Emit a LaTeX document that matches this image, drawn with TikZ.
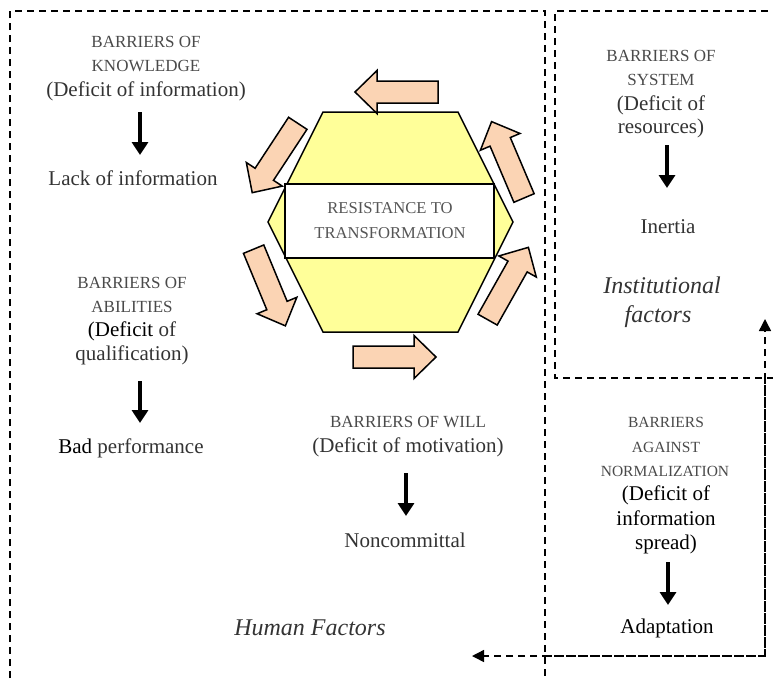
\documentclass[tikz,border=0pt]{standalone}
\usepackage{fontspec}
\setmainfont{Liberation Serif}
\usetikzlibrary{arrows.meta}
\definecolor{hexyellow}{HTML}{FFFF99}
\definecolor{peach}{HTML}{FBD4B4}
\definecolor{capgrey}{HTML}{4A4A4A}
\definecolor{txtgrey}{HTML}{333333}
\definecolor{coregrey}{HTML}{555555}
\newcommand{\peachArrow}[2]{%
  \draw[peacharrow, shift={#1}, rotate=#2]
    (-41.5,-11) -- (19.5,-11) -- (19.5,-21.5) -- (41.5,0) --
    (19.5,21.5) -- (19.5,11) -- (-41.5,11) -- cycle;}
\begin{document}
\begin{tikzpicture}[x=1pt,y=-1pt,
  caps/.style={anchor=base, text=capgrey, font=\fontsize{17}{20}\selectfont, inner sep=0pt},
  smallcaps/.style={anchor=base, text=capgrey, font=\fontsize{15.5}{19}\selectfont, inner sep=0pt},
  body/.style={anchor=base, text=txtgrey, font=\fontsize{21}{24}\selectfont, inner sep=0pt},
  dk/.style={anchor=base, text=black, font=\fontsize{21}{24}\selectfont, inner sep=0pt},
  ital/.style={anchor=base, text=txtgrey, font=\fontsize{24}{28}\selectfont\itshape, inner sep=0pt},
  coretxt/.style={anchor=base, text=coregrey, font=\fontsize{16.6}{20}\selectfont, inner sep=0pt},
  bigarrow/.style={line width=4pt, -{Triangle[length=13pt,width=16pt]}},
  frame/.style={line width=1.5pt, dash pattern=on 7pt off 5pt},
  flow/.style={frame, -{Triangle[length=12pt,width=12pt]}},
  peacharrow/.style={fill=peach, draw=black, line width=1.5pt, line join=miter},
]
\useasboundingbox (0,0) rectangle (773,678);

% frames
\draw[frame] (10,690) -- (10,11) -- (545,11) -- (545,690);
\draw[frame] (780,11) -- (555,11) -- (555,378) -- (780,378);
\draw[frame] (545,656) -- (765,656) -- (765,378);
\coordinate (cornerN) at (765,656);
\coordinate (toInst) at (765,319);
\coordinate (toHuman) at (472,656);
\draw[flow] (cornerN) -- (toInst);
\draw[flow] (cornerN) -- (toHuman);

% hexagon
\draw[fill=hexyellow, line width=1.5pt, line join=miter]
  (323,112) -- (458,112) -- (513,222) -- (458,332) -- (323,332) -- (268,222) -- cycle;
\node[draw, fill=white, line width=1.2pt, minimum width=209pt, minimum height=74pt, inner sep=0pt] (core) at (389.5,221) {};
\node[coretxt] (core1) at (390,213) {RESISTANCE TO};
\node[coretxt] (core2) at (390,238) {TRANSFORMATION};

% circulating arrows
\peachArrow{(396.5,92)}{180}
\peachArrow{(275,158)}{236.7}
\peachArrow{(269.5,287.5)}{292.5}
\peachArrow{(394.5,357)}{0}
\peachArrow{(508,283.5)}{60.6}
\peachArrow{(507.8,159.8)}{113}

% knowledge
\node[caps] (k1) at (146,47) {BARRIERS OF};
\node[caps] (k2) at (146,71) {KNOWLEDGE};
\node[body] (k3) at (146,96) {(Deficit of information)};
\node[body] (k4) at (133,185) {Lack of information};
\coordinate (ka) at (140,112); \coordinate (kb) at (140,155);
\draw[bigarrow] (ka) -- (kb);

% abilities
\node[caps] (a1) at (132,288) {BARRIERS OF};
\node[caps] (a2) at (132,312) {ABILITIES};
\node[body] (a3) at (132,336) {{\color{black}(Deficit} of};
\node[body] (a4) at (132,360) {qualification)};
\node[body] (a5) at (131,453) {{\color{black}Bad} performance};
\coordinate (aa) at (140,381); \coordinate (ab) at (140,423);
\draw[bigarrow] (aa) -- (ab);

% will
\node[caps] (w1) at (408,427) {BARRIERS OF WILL};
\node[body] (w2) at (408,452) {(Deficit of motivation)};
\node[body] (w3) at (405,547) {Noncommittal};
\coordinate (wa) at (406,473); \coordinate (wb) at (406,516);
\draw[bigarrow] (wa) -- (wb);

% system
\node[caps] (s1) at (661,61) {BARRIERS OF};
\node[caps] (s2) at (661,85) {SYSTEM};
\node[body] (s3) at (661,110) {(Deficit of};
\node[body] (s4) at (661,133) {resources)};
\node[body] (s5) at (668,233) {Inertia};
\coordinate (sa) at (667,145); \coordinate (sb) at (667,188);
\draw[bigarrow] (sa) -- (sb);
\node[ital] (inst1) at (662,293) {Institutional};
\node[ital] (inst2) at (658,322) {factors};

% normalization
\node[smallcaps] (n1) at (666,427) {BARRIERS};
\node[smallcaps] (n2) at (666,452) {AGAINST};
\node[smallcaps] (n3) at (665,476) {NORMALIZATION};
\node[dk] (n4) at (666,500) {(Deficit of};
\node[dk] (n5) at (666,525) {information};
\node[dk] (n6) at (666,549) {spread)};
\node[dk] (n7) at (667,633) {Adaptation};
\coordinate (na) at (668,562); \coordinate (nb) at (668,605);
\draw[bigarrow] (na) -- (nb);

% human factors
\node[ital] (hum) at (310,635) {Human Factors};
\end{tikzpicture}
\end{document}
